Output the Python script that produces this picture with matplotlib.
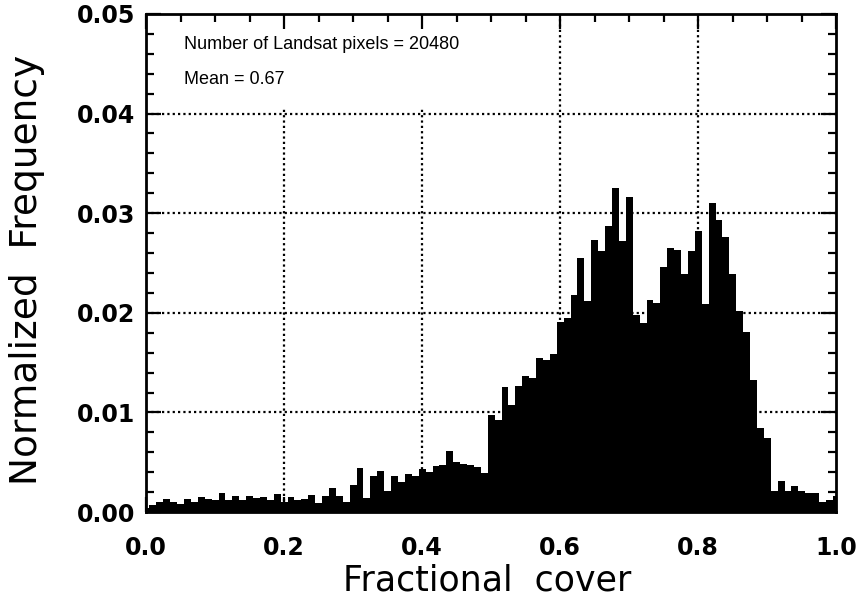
import numpy as np
import matplotlib
matplotlib.use("Agg")
import matplotlib.pyplot as plt
from matplotlib.ticker import MultipleLocator, FormatStrFormatter
from matplotlib.patches import Rectangle

# bin centres 0.00 ... 1.00 (step 0.01) and normalized frequencies
cover = np.round(np.arange(0, 101) * 0.01, 2)
freq = [
    0.0004, 0.0007, 0.0010, 0.0013, 0.0010, 0.0008, 0.0013, 0.0010, 0.0015, 0.0013,
    0.0012, 0.0019, 0.0012, 0.0016, 0.0012, 0.0016, 0.0014, 0.0015, 0.0012, 0.0018,
    0.0010, 0.0015, 0.0012, 0.0013, 0.0017, 0.0009, 0.0016, 0.0024, 0.0016, 0.0010,
    0.0027, 0.0044, 0.0014, 0.0036, 0.0041, 0.0021, 0.0036, 0.0030, 0.0038, 0.0036,
    0.0043, 0.0040, 0.0046, 0.0047, 0.0061, 0.0050, 0.0048, 0.0047, 0.0045, 0.0039,
    0.0097, 0.0092, 0.0126, 0.0107, 0.0127, 0.0137, 0.0135, 0.0155, 0.0153, 0.0159,
    0.0191, 0.0195, 0.0218, 0.0255, 0.0212, 0.0273, 0.0262, 0.0287, 0.0325, 0.0272,
    0.0316, 0.0198, 0.0190, 0.0213, 0.0210, 0.0246, 0.0265, 0.0263, 0.0239, 0.0262,
    0.0282, 0.0209, 0.0310, 0.0293, 0.0276, 0.0239, 0.0202, 0.0181, 0.0133, 0.0084,
    0.0074, 0.0021, 0.0031, 0.0021, 0.0026, 0.0021, 0.0019, 0.0019, 0.0010, 0.0012,
    0.0016,
]
n_pixels = 20480
mean_cover = 0.67

plt.rcParams['font.family'] = ['DejaVu Sans']

fig = plt.figure(figsize=(8.64, 6.06), dpi=100)
ax = fig.add_axes([0.169, 0.155, 0.799, 0.822])

ax.bar(cover, freq, width=0.01, align='center', color='black', edgecolor='none', zorder=2)

ax.set_xlim(0, 1.0)
ax.set_ylim(0, 0.05)

ax.xaxis.set_major_locator(MultipleLocator(0.2))
ax.xaxis.set_minor_locator(MultipleLocator(0.05))
ax.yaxis.set_major_locator(MultipleLocator(0.01))
ax.yaxis.set_minor_locator(MultipleLocator(0.002))
ax.xaxis.set_major_formatter(FormatStrFormatter('%.1f'))
ax.yaxis.set_major_formatter(FormatStrFormatter('%.2f'))

ax.tick_params(which='both', direction='in', top=True, right=True, width=1.6, color='black')
ax.tick_params(which='major', length=11, labelsize=17)
ax.tick_params(which='minor', length=6)
ax.tick_params(axis='x', which='major', pad=17)
ax.tick_params(axis='y', which='major', pad=8)
for lab in ax.get_xticklabels() + ax.get_yticklabels():
    lab.set_fontweight('bold')

for sp in ax.spines.values():
    sp.set_linewidth(2)

# dotted grid inside the frame
dots = (0, (1.0, 1.4))
for gx in [0.2, 0.4, 0.6, 0.8]:
    ax.axvline(gx, color='black', linestyle=dots, linewidth=1.6, zorder=1)
for gy in [0.01, 0.02, 0.03, 0.04]:
    ax.axhline(gy, color='black', linestyle=dots, linewidth=1.6, zorder=1)

# the annotation block blanks out the grid behind it
ax.add_patch(Rectangle((0.01, 0.0405), 0.42, 0.0092, facecolor='white',
                       edgecolor='none', zorder=1.5))

ax.set_xlabel("Fractional  cover", fontsize=25)
ax.set_ylabel("Normalized  Frequency", fontsize=27)
ax.xaxis.set_label_coords(0.494, -0.104)
ax.yaxis.set_label_coords(-0.146, 0.487)

ax.text(0.055, 0.955, f"Number of Landsat pixels = {n_pixels}", transform=ax.transAxes,
        fontsize=13, va='top', ha='left', zorder=3, family='Liberation Sans')
ax.text(0.055, 0.885, f"Mean = {mean_cover:.2f}", transform=ax.transAxes,
        fontsize=13, va='top', ha='left', zorder=3, family='Liberation Sans')

fig.savefig("out.png", dpi=100)
